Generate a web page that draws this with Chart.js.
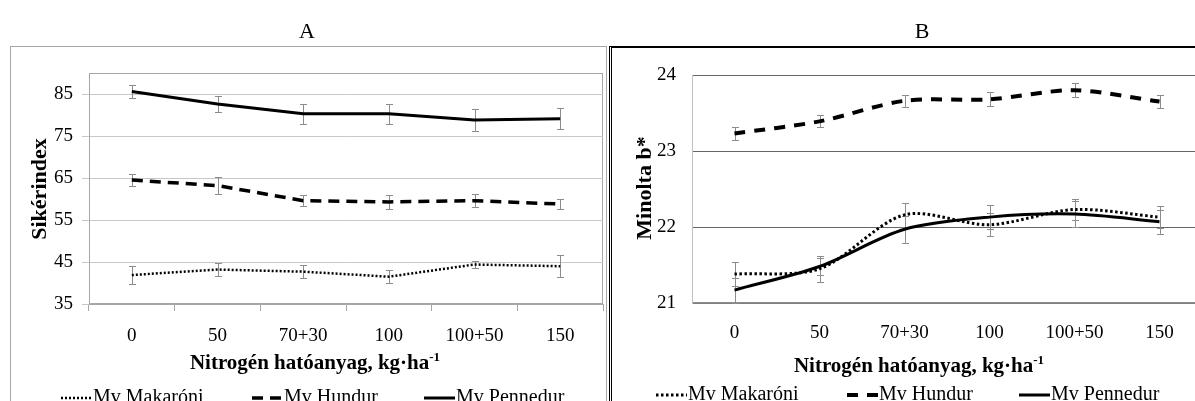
<!DOCTYPE html>
<html>
<head>
<meta charset="utf-8">
<script src="https://cdn.jsdelivr.net/npm/chart.js@4.4.1/dist/chart.umd.min.js"></script>
<style>
  html, body { margin: 0; padding: 0; background: #fff; }
  body { width: 1195px; height: 401px; overflow: hidden; position: relative; }
  .box { position: absolute; top: 46px; height: 420px; box-sizing: border-box; }
  #boxA { left: 10px; width: 597px; border: 1px solid #a6a6a6; }
  #boxB { left: 609px; width: 600px; border-top: 2px solid #000; border-left: 3px double #000; }
  canvas { position: absolute; top: 0; }
  #chartA { left: 0; }
  #chartB { left: 607px; }
</style>
</head>
<body>
<div class="box" id="boxA"></div>
<div class="box" id="boxB"></div>
<canvas id="chartA" width="607" height="401"></canvas>
<canvas id="chartB" width="600" height="401"></canvas>

<script>
/* ---------- data ---------- */

const categories  = ["0", "50", "70+30", "100", "100+50", "150"];
const seriesNames = ["Mv Makaróni", "Mv Hundur", "Mv Pennedur"];

// A: Sikérindex
const makaroniA    = [41.9, 43.2, 42.7, 41.5, 44.4, 44.0];
const hundurA      = [64.5, 63.2, 59.6, 59.3, 59.6, 58.8];
const pennedurA    = [85.6, 82.6, 80.3, 80.3, 78.8, 79.1];
const makaroniErrA = [2.2, 1.65, 1.6, 1.5, 0.9, 2.55];
const hundurErrA   = [1.45, 1.95, 1.3, 1.65, 1.5, 1.25];
const pennedurErrA = [1.5, 2.0, 2.4, 2.4, 2.6, 2.5];
const ticksA       = [35, 45, 55, 65, 75, 85];

// B: Minolta b*
const makaroniB    = [21.38, 21.45, 22.16, 22.03, 22.23, 22.13];
const hundurB      = [23.23, 23.39, 23.66, 23.68, 23.80, 23.65];
const pennedurB    = [21.17, 21.48, 21.97, 22.13, 22.17, 22.07];
const makaroniErrB = [0.16, 0.17, 0.16, 0.15, 0.14, 0.14];
const hundurErrB   = [0.09, 0.08, 0.08, 0.09, 0.09, 0.09];
const pennedurErrB = [0.165, 0.11, 0.18, 0.16, 0.17, 0.16];
const ticksB       = [21, 22, 23, 24];

const SERIF = '"Liberation Serif", "Times New Roman", serif';

/* ---------- plugins ---------- */

// thin frame round the plot area
const plotFrame = {
  id: 'plotFrame',
  beforeDraw(chart, args, opts) {
    const a = chart.chartArea, ctx = chart.ctx;
    ctx.save();
    ctx.lineWidth = 1;
    ctx.strokeStyle = opts.color;
    ctx.strokeRect(a.left + 0.5, a.top + 0.5, a.right - a.left - 1, a.bottom - a.top - 1);
    ctx.restore();
  }
};

// gray error bars with small caps, drawn under the lines
const errorBars = {
  id: 'errorBars',
  beforeDatasetsDraw(chart) {
    const {ctx, scales: {x, y}} = chart;
    ctx.save();
    ctx.strokeStyle = '#8c8c8c';
    ctx.lineWidth = 1;
    chart.data.datasets.forEach(ds => {
      ds.data.forEach((v, i) => {
        const px = Math.round(x.getPixelForValue(i)) + 0.5;
        const top = Math.round(y.getPixelForValue(v + ds.errors[i])) + 0.5;
        const bot = Math.round(y.getPixelForValue(v - ds.errors[i])) + 0.5;
        ctx.beginPath();
        ctx.moveTo(px, top); ctx.lineTo(px, bot);
        ctx.moveTo(px - 3.5, top); ctx.lineTo(px + 3.5, top);
        ctx.moveTo(px - 3.5, bot); ctx.lineTo(px + 3.5, bot);
        ctx.stroke();
      });
    });
    ctx.restore();
  }
};

// panel letter, axis titles and the legend row
const panelText = {
  id: 'panelText',
  afterDraw(chart, args, o) {
    const ctx = chart.ctx;
    ctx.save();
    ctx.fillStyle = '#000';

    ctx.font = '22px ' + SERIF;
    ctx.textAlign = 'center';
    ctx.textBaseline = 'alphabetic';
    ctx.fillText(o.title, o.titleX, 38);

    // y axis title
    ctx.save();
    ctx.translate(o.yTitleX, o.yTitleY);
    ctx.rotate(-Math.PI / 2);
    ctx.font = 'bold 22px ' + SERIF;
    ctx.textBaseline = 'middle';
    ctx.fillText(o.yTitle, 0, 0);
    ctx.restore();

    // x axis title with superscript unit
    const main = 'Nitrogén hatóanyag, kg·ha', sup = '-1';
    ctx.font = 'bold 21px ' + SERIF;
    const w1 = ctx.measureText(main).width;
    ctx.font = 'bold 13px ' + SERIF;
    const w2 = ctx.measureText(sup).width;
    const start = o.xTitleX - (w1 + w2) / 2;
    ctx.textAlign = 'left';
    ctx.font = 'bold 21px ' + SERIF;
    ctx.fillText(main, start, o.xTitleY);
    ctx.font = 'bold 13px ' + SERIF;
    ctx.fillText(sup, start + w1, o.xTitleY - 8);

    // legend
    ctx.font = '20px ' + SERIF;
    chart.data.datasets.forEach((ds, i) => {
      const x0 = o.legendX[i];
      ctx.beginPath();
      ctx.setLineDash(ds.borderDash);
      ctx.lineWidth = ds.borderWidth;
      ctx.strokeStyle = ds.borderColor;
      ctx.moveTo(x0, o.legendY - 5);
      ctx.lineTo(x0 + 31, o.legendY - 5);
      ctx.stroke();
      ctx.setLineDash([]);
      ctx.fillText(ds.label, x0 + 32, o.legendY);
    });
    ctx.restore();
  }
};

/* ---------- helpers ---------- */

function makeDatasets(values, errors, styles, tension) {
  return values.map((vals, i) => ({
    label: seriesNames[i],
    data: vals,
    errors: errors[i],
    borderColor: '#000',
    backgroundColor: '#000',
    borderWidth: styles[i].width,
    borderDash: styles[i].dash,
    borderCapStyle: 'butt',
    pointRadius: 0,
    pointHoverRadius: 0,
    tension: tension,
    fill: false
  }));
}

function makeChart(id, datasets, yMin, yMax, ticks, cfg) {
  return new Chart(document.getElementById(id), {
    type: 'line',
    data: { labels: categories, datasets: datasets },
    options: {
      responsive: false,
      animation: false,
      devicePixelRatio: 1,
      layout: { padding: cfg.padding },
      plugins: {
        legend: { display: false },
        title: { display: false },
        tooltip: { enabled: false },
        plotFrame: { color: cfg.frameColor },
        panelText: cfg.text
      },
      scales: {
        x: {
          offset: true,
          grid: {
            offset: true,
            drawOnChartArea: false,
            drawTicks: cfg.xTicks,
            tickLength: 7,
            color: '#a6a6a6'
          },
          border: { color: cfg.xAxisColor, width: 1 },
          ticks: {
            color: '#000',
            font: { family: SERIF, size: 19 },
            padding: cfg.xTickPad,
            maxRotation: 0,
            autoSkip: false
          },
          afterFit(s) { s.height = 40; }
        },
        y: {
          min: yMin,
          max: yMax,
          afterBuildTicks(s) { s.ticks = ticks.map(v => ({ value: v })); },
          grid: {
            color: cfg.gridColor,
            drawTicks: cfg.yTicks,
            tickLength: 7
          },
          border: { color: cfg.yAxisColor, width: 1 },
          ticks: {
            color: '#000',
            font: { family: SERIF, size: 19 },
            padding: cfg.yTickPad
          },
          afterFit(s) { s.width = 50; }
        }
      }
    },
    plugins: [plotFrame, errorBars, panelText]
  });
}

/* ---------- chart A ---------- */

makeChart('chartA',
  makeDatasets(
    [makaroniA, hundurA, pennedurA],
    [makaroniErrA, hundurErrA, pennedurErrA],
    [{ width: 2.5, dash: [2, 2] }, { width: 3.5, dash: [11, 7] }, { width: 3, dash: [] }],
    0),
  35, 90, ticksA,
  {
    padding: { left: 39, right: 4, top: 73, bottom: 57 },
    frameColor: '#a6a6a6',
    gridColor: '#c8c8c8',
    xAxisColor: '#a6a6a6',
    yAxisColor: '#a6a6a6',
    xTicks: true,
    yTicks: true,
    xTickPad: 14,
    yTickPad: 9,
    text: {
      title: 'A', titleX: 307,
      yTitle: 'Sikérindex', yTitleX: 40, yTitleY: 189,
      xTitleX: 315, xTitleY: 369,
      legendX: [61, 252, 424], legendY: 403
    }
  });

/* ---------- chart B ---------- */

makeChart('chartB',
  makeDatasets(
    [makaroniB, hundurB, pennedurB],
    [makaroniErrB, hundurErrB, pennedurErrB],
    [{ width: 3, dash: [2.5, 2.5] }, { width: 4, dash: [11, 9] }, { width: 3, dash: [] }],
    0.3),
  21, 24, ticksB,
  {
    padding: { left: 35, right: 5, top: 75, bottom: 58 },
    frameColor: '#8c8c8c',
    gridColor: '#666666',
    xAxisColor: '#808080',
    yAxisColor: '#bfbfbf',
    xTicks: false,
    yTicks: false,
    xTickPad: 19,
    yTickPad: 16,
    text: {
      title: 'B', titleX: 315,
      yTitle: 'Minolta b*', yTitleX: 38, yTitleY: 188,
      xTitleX: 312, xTitleY: 372,
      legendX: [49, 240, 412], legendY: 400
    }
  });
</script>
</body>
</html>
